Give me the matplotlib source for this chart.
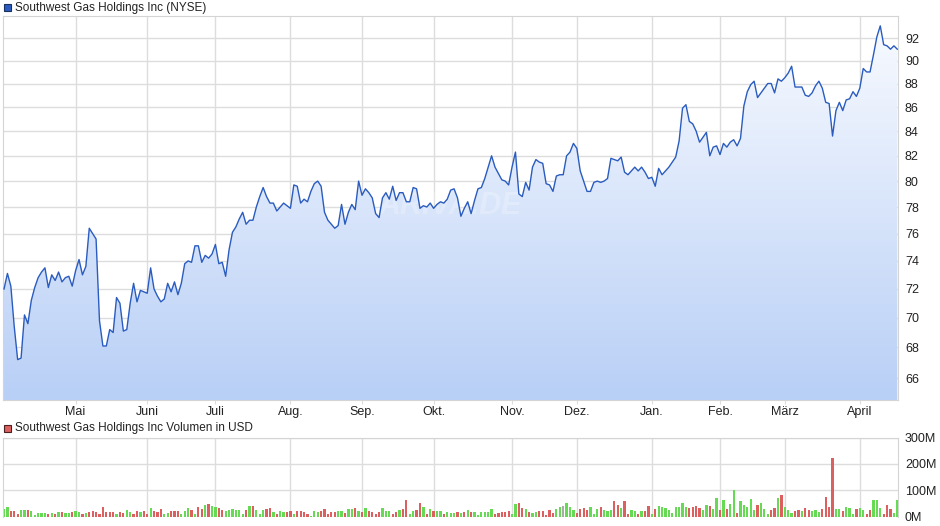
import numpy as np
import matplotlib
matplotlib.use('Agg')
import matplotlib.pyplot as plt
from matplotlib.colors import LinearSegmentedColormap
from matplotlib.patches import Rectangle
from matplotlib.ticker import FixedLocator, NullLocator, FuncFormatter

plt.rcParams['font.family'] = ['Liberation Sans', 'DejaVu Sans']

# daily closing prices (USD), one per trading day
price = [72.0, 73.1, 72.2, 69.4, 67.2, 67.3, 70.2, 69.6, 71.2, 72.1, 72.8, 73.2, 73.5, 72.1, 73.0,
         72.6, 73.2, 72.5, 72.8, 72.9, 72.2, 73.3, 74.1, 73.0, 73.6, 76.4, 76.0, 75.6, 69.8, 68.1,
         68.1, 69.2, 69.0, 71.4, 71.0, 69.1, 69.2, 71.0, 72.4, 71.1, 71.9, 71.8, 71.7, 73.5,
         72.0, 71.5, 71.1, 71.3, 72.4, 71.8, 72.5, 71.6, 72.4, 73.8, 74.0, 73.9, 75.1, 75.1, 73.9,
         74.4, 74.2, 74.5, 75.2, 73.8, 73.9, 72.9, 74.8, 76.1, 76.5, 77.1, 77.6, 76.7, 77.0, 77.0,
         78.0, 78.8, 79.5, 78.8, 78.3, 78.3, 77.7, 78.0, 78.3, 78.1, 77.9, 79.7, 79.6, 78.3,
         78.6, 78.4, 79.2, 79.8, 80.0, 79.6, 77.6, 77.0, 76.7, 76.4, 76.6, 78.2, 76.7, 77.6, 78.2,
         77.8, 80.0, 78.9, 79.4, 79.1, 78.7, 77.5, 77.2, 78.7, 79.1, 78.6, 79.6, 78.5, 79.1, 79.1,
         78.4, 78.4, 79.5, 79.4, 77.9, 78.1, 78.0, 78.3, 77.9, 78.2, 78.4, 78.3, 78.6, 79.3,
         79.4, 78.7, 77.3, 77.9, 78.4, 77.5, 78.5, 79.4, 79.5, 80.2, 81.1, 82.0, 81.1, 80.6, 80.1,
         80.0, 79.7, 81.1, 82.3, 79.0, 78.8, 79.9, 79.3, 81.1, 81.7, 81.5, 81.4, 79.8, 79.7, 79.2,
         80.4, 80.5, 80.5, 82.0, 82.3, 83.0, 82.6, 80.8, 80.0, 79.2, 79.2, 79.9, 80.0, 79.9,
         80.0, 80.2, 81.8, 81.7, 81.6, 81.9, 80.7, 80.5, 80.8, 81.1, 80.8, 81.1, 80.7, 80.2, 80.3,
         79.6, 81.0, 80.5, 80.8, 81.1, 81.5, 81.9, 83.2, 85.9, 86.2, 84.8, 84.6, 84.0, 83.1, 83.5,
         83.9, 82.0, 82.7, 82.8, 82.1, 83.0, 82.7, 83.1, 83.3, 82.8, 83.4, 86.1, 87.3, 87.9,
         88.2, 86.8, 87.2, 87.6, 88.0, 88.0, 87.2, 88.4, 88.2, 88.5, 88.9, 89.5, 87.7, 87.7, 87.7,
         87.0, 86.9, 87.2, 87.8, 88.2, 87.6, 86.4, 86.3, 83.6, 85.7, 86.4, 85.7, 86.6, 86.7, 87.3,
         86.9, 87.6, 89.3, 89.0, 89.0, 90.5, 92.1, 93.1, 91.4, 91.3, 91.0, 91.3, 91.0]

# daily volume in million USD
volume = [29, 37, 22, 22, 10, 25, 25, 25, 22, 6, 14, 14, 14, 8, 13, 9, 18, 18, 15, 15,
          18, 22, 17, 9, 14, 18, 22, 19, 11, 37, 19, 19, 19, 10, 18, 15, 25, 19, 9, 22,
          18, 22, 8, 33, 22, 19, 29, 9, 15, 22, 22, 22, 9, 22, 33, 25, 10, 37, 29, 42,
          48, 41, 38, 33, 25, 22, 25, 29, 25, 25, 10, 25, 41, 41, 25, 10, 25, 29, 33, 18,
          10, 22, 18, 18, 22, 10, 22, 22, 18, 10, 3, 22, 18, 22, 29, 10, 18, 18, 22, 22,
          13, 29, 29, 33, 22, 18, 33, 22, 18, 10, 18, 33, 22, 22, 10, 18, 25, 29, 64, 10,
          22, 25, 52, 37, 10, 29, 22, 22, 22, 10, 18, 15, 15, 18, 14, 18, 25,
          18, 18, 6, 18, 18, 18, 29, 10, 14, 18, 18, 22, 10, 48, 52, 33, 29, 18, 14, 18,
          22, 22, 6, 25, 14, 29, 37, 41, 52, 37, 25, 14, 29, 33, 25, 37, 10, 29, 37, 25,
          22, 25, 60, 45, 33, 60, 10, 25, 22, 10, 22, 22, 41, 10, 29, 41, 37, 33, 25, 14,
          37, 37, 52, 37, 33, 37, 41, 33, 25, 45, 41, 29, 71, 25, 64, 29, 48, 102, 14, 60,
          45, 37, 67, 25, 45, 52, 29, 10, 25, 33, 71, 83, 37, 25, 14, 22, 25, 22, 33, 25,
          22, 25, 18, 29, 75, 37, 224, 29, 29, 22, 37, 33, 10, 29, 33, 25, 10, 25, 64, 64,
          33, 10, 45, 29, 14, 64]

# u = up day, d = down day, n = unchanged
up_down = ['u', 'u', 'd', 'd', 'd', 'u', 'u', 'd', 'u', 'u',
           'u', 'u', 'u', 'd', 'u', 'd', 'u', 'd', 'u', 'u',
           'd', 'u', 'u', 'd', 'u', 'd', 'd', 'd', 'd', 'd',
           'd', 'd', 'd', 'u', 'd', 'd', 'u', 'u', 'd', 'd',
           'u', 'd', 'd', 'u', 'd', 'd', 'd', 'u', 'u', 'd',
           'd', 'd', 'u', 'u', 'u', 'd', 'u', 'd', 'd', 'u',
           'd', 'u', 'u', 'd', 'd', 'u', 'u', 'u', 'u', 'u',
           'u', 'd', 'u', 'd', 'u', 'u', 'u', 'd', 'd', 'u',
           'd', 'u', 'u', 'd', 'd', 'u', 'd', 'd', 'd', 'd',
           'u', 'u', 'u', 'd', 'd', 'd', 'd', 'd', 'u', 'u',
           'd', 'u', 'u', 'd', 'u', 'd', 'u', 'd', 'd', 'd',
           'd', 'u', 'u', 'u', 'd', 'd', 'u', 'd', 'd', 'u',
           'u', 'd', 'd', 'u', 'd', 'u', 'd', 'u', 'u', 'd',
           'u', 'u', 'u', 'd', 'u', 'd', 'u',
           'd', 'u', 'u', 'u', 'u', 'u', 'u', 'd', 'd', 'd',
           'd', 'd', 'u', 'u', 'd', 'd', 'u', 'd', 'u', 'u',
           'd', 'd', 'd', 'd', 'd', 'u', 'u', 'n', 'u', 'u',
           'u', 'd', 'd', 'd', 'd', 'u', 'u', 'u', 'd', 'u',
           'u', 'u', 'd', 'd', 'u', 'd', 'd', 'u', 'u', 'd',
           'u', 'd', 'd', 'u', 'd', 'u', 'u', 'u', 'u', 'u',
           'u', 'u', 'u', 'u', 'd', 'd', 'd', 'd', 'u', 'u',
           'd', 'u', 'u', 'd', 'u', 'd', 'u', 'u', 'd', 'u',
           'u', 'u', 'u', 'u', 'd', 'u', 'u', 'u', 'd', 'd',
           'u', 'd', 'u', 'u', 'u', 'd', 'd', 'u', 'd', 'd',
           'u', 'u', 'u', 'd', 'd', 'd', 'd', 'u', 'u', 'd',
           'u', 'u', 'u', 'd', 'u', 'u', 'd', 'd', 'u', 'u',
           'u', 'd', 'd', 'd', 'u', 'u']

# month labels and the trading-day index where each month starts
months = ['Mai', 'Juni', 'Juli', 'Aug.', 'Sep.', 'Okt.', 'Nov.', 'Dez.', 'Jan.', 'Feb.', 'März', 'April']
month_idx = [21, 42, 62, 84, 105, 126, 149, 168, 190, 210, 229, 251]
price_ticks = list(range(66, 93, 2))
vol_ticks = [0, 100, 200, 300]

x = np.arange(len(price))
W, H = 940, 526
grid_c = '#dddddd'
line_c = '#2a5cbf'
xlim = (-0.3, 262.2)
ylim = (64.6, 94.0)

fig = plt.figure(figsize=(W / 100, H / 100), dpi=100)
ax = fig.add_axes([3 / W, 1 - 400 / H, 895 / W, 384 / H])
av = fig.add_axes([3 / W, 1 - 516.5 / H, 895 / W, 78.8 / H])

# price panel, log scale with gradient fill under the line
ax.set_yscale('log')
poly = ax.fill_between(x, price, 60, color='none', lw=0)
grad = np.linspace(0, 1, 256).reshape(-1, 1)
cmap = LinearSegmentedColormap.from_list('fillgrad', ['#b8cff6', '#f9fbff'])
im = ax.imshow(grad, aspect='auto', cmap=cmap, origin='lower',
               extent=[0, 1, 0, 1], transform=ax.transAxes, zorder=1)
im.set_clip_path(poly.get_paths()[0], transform=ax.transData)
ax.plot(x, price, color=line_c, lw=1.0, zorder=3)
ax.set_xlim(xlim)
ax.set_ylim(ylim)

ax.yaxis.set_major_locator(FixedLocator(price_ticks))
ax.yaxis.set_minor_locator(NullLocator())
ax.yaxis.set_major_formatter(FuncFormatter(lambda v, p: '%d' % v))
ax.set_xticks(month_idx)
ax.set_xticklabels(months)
ax.grid(True, color=grid_c, lw=1, zorder=0)
ax.set_axisbelow(True)
ax.yaxis.tick_right()
ax.tick_params(axis='y', length=0, pad=5, labelsize=9, colors='#222222')
ax.tick_params(axis='x', length=3, color=grid_c, pad=1, labelsize=9, labelcolor='#222222')
for s in ax.spines.values():
    s.set_color('#d4d4d4')

# faint watermark
ax.text(0.5, 0.505, 'ARIVA.DE', transform=ax.transAxes, ha='center', va='center',
        fontsize=22, fontweight='bold', style='italic', color='white', alpha=0.25, zorder=2)

# volume panel
bar_colors = {'u': '#66d955', 'd': '#dc6060', 'n': '#aaaaaa'}
av.bar(x, volume, width=0.66, color=[bar_colors[d] for d in up_down], zorder=2,
       antialiased=False)
av.set_xlim(xlim)
av.set_ylim(0, 300)
av.set_yticks(vol_ticks)
av.set_yticklabels(['%dM' % v for v in vol_ticks])
av.set_xticks(month_idx)
av.set_xticklabels([])
av.grid(True, color=grid_c, lw=1, zorder=0)
av.set_axisbelow(True)
av.yaxis.tick_right()
av.tick_params(axis='y', length=0, pad=5, labelsize=9, colors='#222222')
av.tick_params(axis='x', length=0)
for s in av.spines.values():
    s.set_color('#d4d4d4')
av.spines['bottom'].set_visible(False)

# legend squares and titles
fig.patches.append(Rectangle((4 / W, 1 - 11 / H), 7 / W, 7 / H, transform=fig.transFigure,
                             facecolor='#2a5cbf', edgecolor='#1b2f5e', lw=0.8))
fig.text(15 / W, 1 - 7.5 / H, 'Southwest Gas Holdings Inc (NYSE)', fontsize=8.5,
         va='center', ha='left', color='#222222')
fig.patches.append(Rectangle((4 / W, 1 - 432 / H), 7 / W, 7 / H, transform=fig.transFigure,
                             facecolor='#dc6060', edgecolor='#4a2020', lw=0.8))
fig.text(15 / W, 1 - 428.5 / H, 'Southwest Gas Holdings Inc Volumen in USD', fontsize=8.5,
         va='center', ha='left', color='#222222')

fig.savefig('out.png', dpi=100)
